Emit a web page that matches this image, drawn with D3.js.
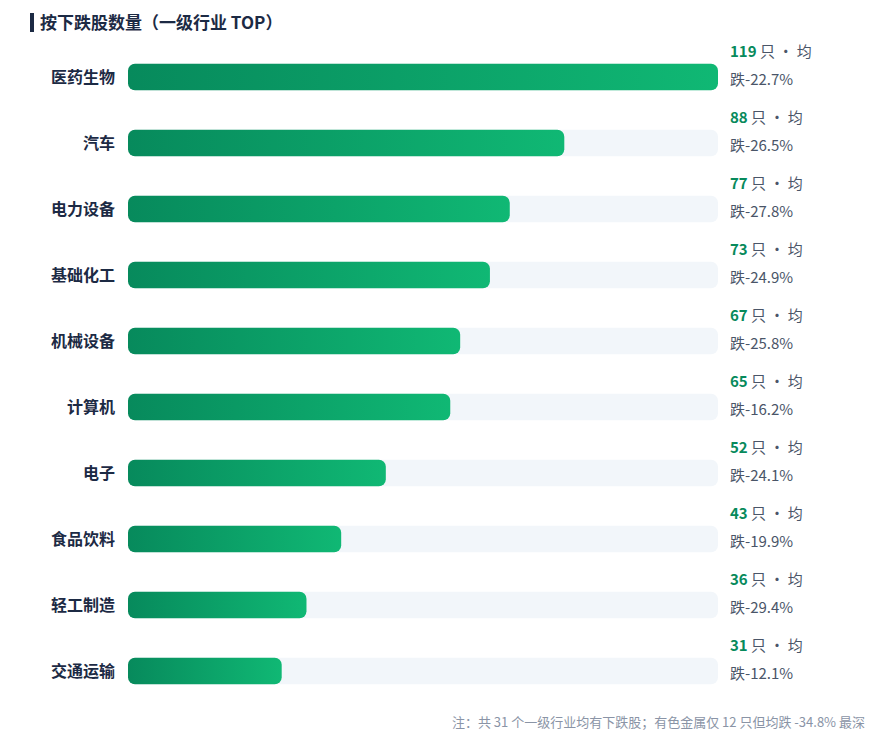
<!DOCTYPE html>
<html lang="zh">
<head>
<meta charset="UTF-8">
<script src="https://d3js.org/d3.v7.min.js"></script>
<style>
  body { margin: 0; background: #fff; font-family: "Noto Sans CJK SC", "Noto Sans", sans-serif; }
</style>
</head>
<body>
<svg width="889" height="745"></svg>
<script>
const industries = ["医药生物", "汽车", "电力设备", "基础化工", "机械设备", "计算机", "电子", "食品饮料", "轻工制造", "交通运输"];
const counts = [119, 88, 77, 73, 67, 65, 52, 43, 36, 31];
const avgDrop = ["-22.7%", "-26.5%", "-27.8%", "-24.9%", "-25.8%", "-16.2%", "-24.1%", "-19.9%", "-29.4%", "-12.1%"];

const svg = d3.select("svg");
const x = d3.scaleLinear().domain([0, 119]).range([128, 718]);
const y = d3.scaleBand().domain(industries).range([44, 704]).paddingInner(0.6).paddingOuter(0.3);

const grad = svg.append("defs").append("linearGradient").attr("id", "g");
grad.append("stop").attr("offset", "0%").attr("stop-color", "#078a5c");
grad.append("stop").attr("offset", "100%").attr("stop-color", "#10b874");

// title
svg.append("rect").attr("x", 30).attr("y", 13).attr("width", 4).attr("height", 19).attr("fill", "#1c2a44");
svg.append("text").attr("x", 40).attr("y", 29).attr("font-size", 17).attr("font-weight", 700)
  .attr("fill", "#1c2a44").text("按下跌股数量（一级行业 TOP）");

const rows = svg.selectAll(".row").data(industries).enter().append("g");

rows.append("rect").attr("x", x(0)).attr("y", d => y(d)).attr("width", x(119) - x(0))
  .attr("height", y.bandwidth()).attr("rx", 7).attr("fill", "#f2f6fa");
rows.append("rect").attr("x", x(0)).attr("y", d => y(d))
  .attr("width", (d, i) => x(counts[i]) - x(0))
  .attr("height", y.bandwidth()).attr("rx", 7).attr("fill", "url(#g)");

rows.append("text").attr("x", 115).attr("y", d => y(d) + y.bandwidth() / 2 + 6)
  .attr("text-anchor", "end").attr("font-size", 16).attr("font-weight", 700).attr("fill", "#1c2a44")
  .text(d => d);

const lab = rows.append("text").attr("x", 730).attr("y", d => y(d) - 7).attr("font-size", 15).attr("fill", "#4a5568");
lab.append("tspan").attr("font-weight", 700).attr("fill", "#078a5c").text((d, i) => counts[i]);
lab.append("tspan").text(" 只 · 均");
rows.append("text").attr("x", 730).attr("y", d => y(d) + 21).attr("font-size", 15).attr("fill", "#4a5568")
  .text((d, i) => "跌" + avgDrop[i]);

svg.append("text").attr("x", 865).attr("y", 727).attr("text-anchor", "end").attr("font-size", 13)
  .attr("fill", "#8a94a6").text("注：共 31 个一级行业均有下跌股；有色金属仅 12 只但均跌 -34.8% 最深");
</script>
</body>
</html>
